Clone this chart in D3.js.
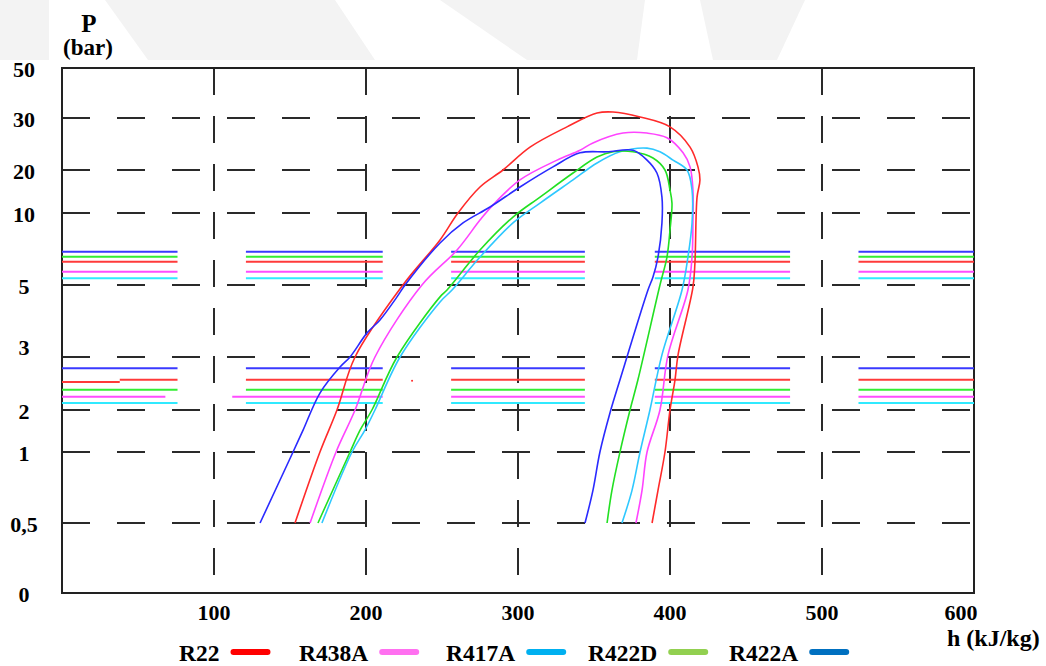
<!DOCTYPE html>
<html>
<head>
<meta charset="utf-8">
<script src="https://cdn.jsdelivr.net/npm/d3@7"></script>
<style>
  body { margin: 0; background: #fff; }
  svg text { font-family: "Liberation Serif", "Times New Roman", serif; font-weight: bold; fill: #000; }
</style>
</head>
<body>
<div id="chart"></div>
<script>
// ---- data ----
const hTicks = [100, 200, 300, 400, 500, 600];
const pTicks = [0, 0.5, 1, 2, 3, 5, 10, 20, 30, 50];
const pTickLabels = ["0", "0,5", "1", "2", "3", "5", "10", "20", "30", "50"];
const pGrid = [0.5, 1, 2, 3, 5, 10, 20, 30];
const hGrid = [100, 200, 300, 400, 500];

const refrigerants = ["R22", "R438A", "R417A", "R422D", "R422A"];
const legendColors = ["#ff0000", "#ff70f0", "#00b0f0", "#92d050", "#0070c0"];
const lineColors = ["#ff2a2a", "#ff44ff", "#2ec8ff", "#22e022", "#2a2aff"];
const levelColors = ["#ff3a3a", "#ff4cff", "#30eaff", "#33ee33", "#3a3aff"];

// saturation curves, [h kJ/kg, P bar], liquid side up to the top and down the vapour side
const domeR22 = [[153.3,0.5],[169.7,1],[180.9,2],[192.8,3],[224.3,5],[248.7,8.13],[260.5,10],[275,16.05],[290.1,20],[307.9,24.4],[332.2,28.3],[352,32],[362.5,32.4],[380.3,30.4],[400,28.3],[413.2,24.4],[418.4,20.6],[419.7,17.7],[417.8,13.7],[416.4,6.53],[415.1,4.94],[405.3,3.06],[403.3,2.57],[400,2],[396.7,1],[392.1,0.73],[388.2,0.5]];
const domeR438A = [[163.2,0.5],[180.3,1],[192.8,2],[205.9,3],[236.8,5],[259.9,7.43],[275,9.51],[283.6,11.9],[301.3,17.7],[325.7,21.9],[340.8,23.8],[349.3,25.2],[369.1,27.1],[384.9,27.1],[398,26.2],[408.6,23.3],[413.2,20.6],[415.1,15.3],[415.1,9.31],[414.5,6.94],[411.8,4.86],[398.7,3.06],[393.4,2],[384.9,1],[381.6,0.73],[377.6,0.5]];
const domeR417A = [[171,0.5],[190.8,1],[199.3,1.52],[205.9,2],[222.4,3],[248.7,4.53],[256.6,4.86],[275,6.94],[296.7,9.31],[314.5,12.3],[336.2,17.7],[352,21.35],[367.1,23.5],[384.9,24.2],[393.4,23.5],[402,21.9],[411.2,20],[414.5,15.3],[414.5,9.31],[411.8,6.94],[407.9,4.86],[394.7,3.06],[386.8,2],[380.3,1],[375,0.73],[368.4,0.5]];
const domeR422D = [[168.4,0.5],[189.5,1],[196.1,1.52],[203.9,2],[220.4,3],[248.7,4.67],[253.3,4.86],[275,7.43],[296.7,9.72],[314.5,13.7],[336.2,19.3],[352,22.5],[362.5,23.5],[375.7,23.5],[388.8,22.3],[396.7,20],[400,15.3],[401.3,12.3],[400,8.82],[398,6.94],[393.4,5],[378.9,2.57],[373.7,2],[367.1,1],[361.8,0.73],[358.6,0.5]];
const domeR422A = [[130.3,0.5],[152,1],[158.6,1.52],[169.7,2.32],[182.9,2.81],[189.5,3],[200.7,3.67],[209.2,4.03],[220.4,4.67],[225.7,5],[248.7,7.92],[263.8,9.31],[281.6,11.4],[301.3,16.05],[323,20.6],[340.8,23.3],[358.6,23.5],[375.7,23.8],[384.9,21.9],[391.4,19.3],[394.7,13.7],[394.7,9.31],[392.1,6.94],[388.8,5.56],[385.5,4.86],[367.1,2.57],[360.5,1.93],[353.9,1],[349.3,0.73],[344.1,0.5]];

// short pressure level lines, upper and lower group [P bar]
const levelHigh = [6.62, 5.92, 5.47, 6.97, 7.31];
const levelLow = [2.57, 2.25, 2.13, 2.38, 2.79];
const levelSpans = [[0, 76], [121, 211], [256, 344], [390, 479], [524, 600]];
// R438A low line is drawn a bit shorter/longer at the left, R22 low line has a small step
const r438aLowSpans = [[0, 68], [112, 211], [256, 344], [390, 479], [524, 600]];
const r22LowStep = [[0, 38, 2.53]];
const strayPoint = [[230.3, 2.55]];

// ---- drawing ----
const width = 1046, height = 666;
const svg = d3.select("#chart").append("svg")
  .attr("width", width).attr("height", height);

// faint watermark of the source page, only seen above the chart
const wm = svg.append("g").attr("fill", "#f3f3f3");
wm.append("rect").attr("x", 0).attr("y", 0).attr("width", 49).attr("height", 60);
wm.append("polygon").attr("points", "105,0 335,0 375,60 148,60");
wm.append("polygon").attr("points", "440,0 645,0 637,60 527,60");
wm.append("polygon").attr("points", "700,0 805,0 777,60 713,60");

const x = d3.scaleLinear().domain([0, 600]).range([62, 974]);
// the pressure axis is not linear: each labelled level sits at its own height
const y = d3.scaleLinear().domain(pTicks)
  .range([593, 523, 452, 410, 357, 285, 213, 170, 118, 68]);

// grid
svg.append("g").selectAll("line").data(pGrid).join("line")
  .attr("x1", x(0)).attr("x2", x(600))
  .attr("y1", d => y(d)).attr("y2", d => y(d))
  .attr("stroke", "#2a2a2a").attr("stroke-width", 2)
  .attr("stroke-dasharray", "28 27");

svg.append("g").selectAll("line").data(hGrid).join("line")
  .attr("x1", d => x(d)).attr("x2", d => x(d))
  .attr("y1", y(50)).attr("y2", y(0))
  .attr("stroke", "#2a2a2a").attr("stroke-width", 2)
  .attr("stroke-dasharray", "27 21");

// frame
svg.append("rect")
  .attr("x", x(0)).attr("y", y(50))
  .attr("width", x(600) - x(0)).attr("height", y(0) - y(50))
  .attr("fill", "none").attr("stroke", "#222").attr("stroke-width", 2);

// pressure level lines
const levels = svg.append("g");
refrigerants.forEach((r, i) => {
  levelSpans.forEach(s => {
    levels.append("line")
      .attr("x1", x(s[0])).attr("x2", x(s[1]))
      .attr("y1", y(levelHigh[i])).attr("y2", y(levelHigh[i]))
      .attr("stroke", levelColors[i]).attr("stroke-width", 2);
  });
  const lowSpans = r === "R438A" ? r438aLowSpans : levelSpans;
  lowSpans.forEach((s, k) => {
    let from = s[0];
    if (r === "R22" && k === 0) {
      r22LowStep.forEach(st => {
        levels.append("line")
          .attr("x1", x(st[0])).attr("x2", x(st[1]))
          .attr("y1", y(st[2])).attr("y2", y(st[2]))
          .attr("stroke", levelColors[i]).attr("stroke-width", 2);
        from = st[1];
      });
    }
    levels.append("line")
      .attr("x1", x(from)).attr("x2", x(s[1]))
      .attr("y1", y(levelLow[i])).attr("y2", y(levelLow[i]))
      .attr("stroke", levelColors[i]).attr("stroke-width", 2);
  });
});

// saturation domes
const domes = [domeR22, domeR438A, domeR417A, domeR422D, domeR422A];
const line = d3.line()
  .x(d => x(d[0])).y(d => y(d[1]))
  .curve(d3.curveCatmullRom.alpha(0.5));

svg.append("g").selectAll("path").data(domes).join("path")
  .attr("d", line)
  .attr("fill", "none")
  .attr("stroke", (d, i) => lineColors[i])
  .attr("stroke-width", 1.6);

svg.append("g").selectAll("circle").data(strayPoint).join("circle")
  .attr("cx", d => x(d[0])).attr("cy", d => y(d[1])).attr("r", 1)
  .attr("fill", "#ff2a2a");

// axis labels
svg.append("g").selectAll("text").data(pTicks).join("text")
  .attr("x", 24)
  .attr("y", (d, i) => y(d) + (d === 3 ? -2 : 8.5))
  .attr("text-anchor", "middle")
  .style("font-size", "22px")
  .text((d, i) => pTickLabels[i]);

svg.append("g").selectAll("text").data(hTicks).join("text")
  .attr("x", d => d === 600 ? x(d) - 13 : x(d))
  .attr("y", 620)
  .attr("text-anchor", "middle")
  .style("font-size", "22px")
  .text(d => d);

svg.append("text").attr("x", 89).attr("y", 32)
  .attr("text-anchor", "middle").style("font-size", "25px").text("P");
svg.append("text").attr("x", 88).attr("y", 55)
  .attr("text-anchor", "middle").style("font-size", "23px").text("(bar)");
svg.append("text").attr("x", 947).attr("y", 646)
  .style("font-size", "24px").text("h (kJ/kg)");

// legend
const legendX = [179, 299, 446, 588, 729];
const legend = svg.append("g").selectAll("g").data(refrigerants).join("g")
  .attr("transform", (d, i) => `translate(${legendX[i]},661)`);
legend.append("text")
  .style("font-size", "23.5px")
  .text(d => d);
legend.append("line")
  .attr("x1", function () { return this.parentNode.querySelector("text").getComputedTextLength() + 14; })
  .attr("x2", function () { return this.parentNode.querySelector("text").getComputedTextLength() + 48; })
  .attr("y1", -9).attr("y2", -9)
  .attr("stroke", (d, i) => legendColors[i])
  .attr("stroke-width", 6)
  .attr("stroke-linecap", "round");
</script>
</body>
</html>
